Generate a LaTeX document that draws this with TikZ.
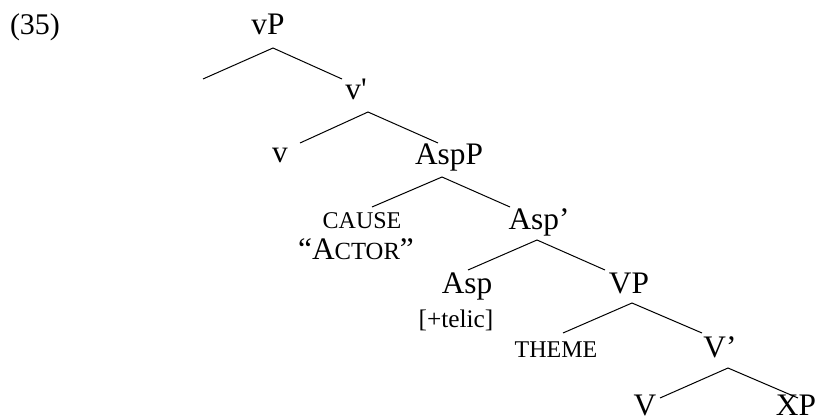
\documentclass[tikz,border=0pt]{standalone}
\usepackage{fontspec}
\setmainfont{Liberation Serif}
\begin{document}
\begin{tikzpicture}[x=0.75pt,y=-0.75pt,
  lab/.style={anchor=base, inner sep=0pt, text depth=0pt, font=\fontsize{23.5}{28}\selectfont},
  smc/.style={anchor=base, inner sep=0pt, text depth=0pt, font=\fontsize{18}{21}\selectfont},
  feat/.style={anchor=base, inner sep=0pt, text depth=0pt, font=\fontsize{19}{22}\selectfont},
  branch/.style={line width=0.75pt, black}]
\useasboundingbox (0,0) rectangle (817,420);
% labels
\node[lab, font=\fontsize{22.5}{27}\selectfont] (ex) at (35,35) {(35)};
\node[lab] (vP) at (268,35) {vP};
\node[lab] (vbar) at (356,100) {v\textquotesingle};
\node[lab] (v) at (280,163) {v};
\node[lab] (AspP) at (449,165) {AspP};
\node[smc] (cause) at (362,229) {CAUSE};
\node[lab] (actor) at (356,260) {“A{\fontsize{18.5}{21}\selectfont CTOR}”};
\node[lab] (Aspbar) at (539,230) {Asp’};
\node[lab] (Asp) at (467,293) {Asp};
\node[feat] (telic) at (456,327) {[+telic]};
\node[lab] (VP) at (629,293) {VP};
\node[smc] (theme) at (556,357) {THEME};
\node[lab] (Vbar) at (720,357) {V’};
\node[lab] (V) at (645,415) {V};
\node[lab] (XP) at (796,415) {XP};
% branch points
\coordinate (a1) at (273,48);  \coordinate (l1) at (203,79);  \coordinate (r1) at (342,79);
\coordinate (a2) at (368,112); \coordinate (l2) at (300,143); \coordinate (r2) at (438,143);
\coordinate (a3) at (442,177); \coordinate (l3) at (372,207); \coordinate (r3) at (510,207);
\coordinate (a4) at (537,240); \coordinate (l4) at (468,270); \coordinate (r4) at (605,270);
\coordinate (a5) at (632,303); \coordinate (l5) at (563,333); \coordinate (r5) at (702,333);
\coordinate (a6) at (728,368); \coordinate (l6) at (660,398); \coordinate (r6) at (798,398);
\draw[branch] (l1) -- (a1) -- (r1);
\draw[branch] (l2) -- (a2) -- (r2);
\draw[branch] (l3) -- (a3) -- (r3);
\draw[branch] (l4) -- (a4) -- (r4);
\draw[branch] (l5) -- (a5) -- (r5);
\draw[branch] (l6) -- (a6) -- (r6);
\end{tikzpicture}
\end{document}
